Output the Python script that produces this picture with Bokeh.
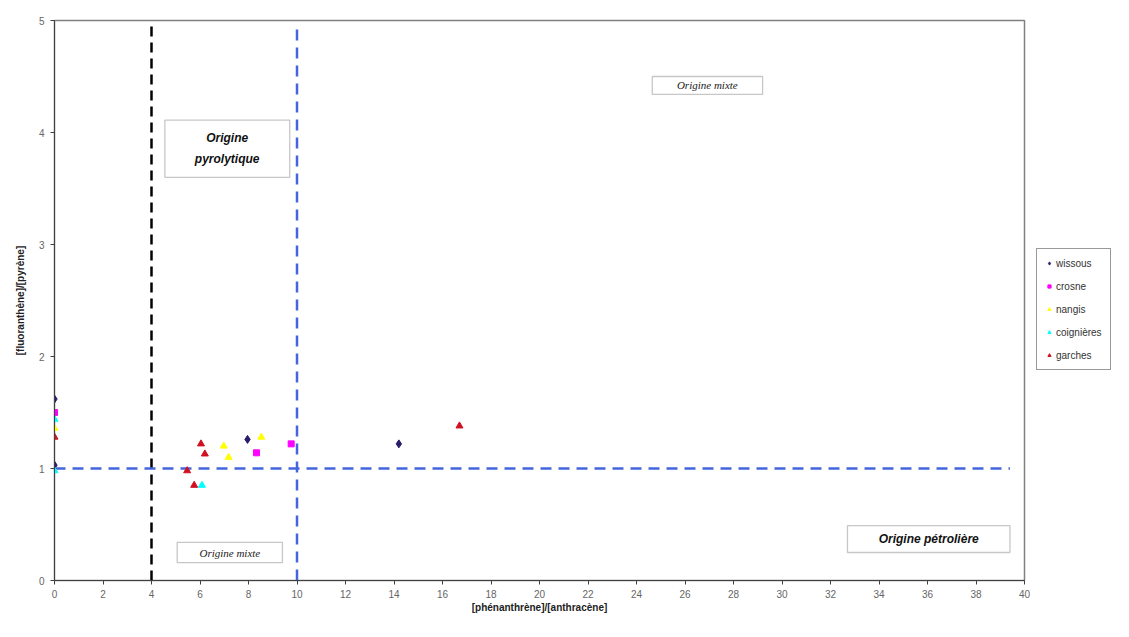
from bokeh.plotting import figure
from bokeh.models import Legend, LegendItem, Label, BoxAnnotation, FixedTicker, Range1d
from bokeh.layouts import row
from bokeh.embed import file_html
from bokeh.resources import INLINE

# ---- data ----
wissous_x = [0, 0, 7.96, 14.2]
wissous_y = [1.62, 1.03, 1.26, 1.22]
crosne_x = [0, 8.33, 9.76]
crosne_y = [1.50, 1.14, 1.22]
nangis_x = [0, 6.98, 7.18, 8.53]
nangis_y = [1.36, 1.20, 1.10, 1.28]
coign_x = [0, 0, 6.08]
coign_y = [1.44, 0.98, 0.85]
garches_x = [0, 6.04, 6.2, 5.47, 5.76, 16.7]
garches_y = [1.28, 1.22, 1.13, 0.98, 0.85, 1.38]

series_names = ["wissous", "crosne", "nangis", "coignières", "garches"]

# thresholds
pyro_x = 4
petro_x = 10
ratio_y = 1

x_ticks = list(range(0, 41, 2))
y_ticks = [0, 1, 2, 3, 4, 5]

styles = [
    dict(marker="diamond", size=8, fill_color="#2B1B6B", line_color="#2B1B6B"),
    dict(marker="square", size=6, fill_color="#FF00FF", line_color="#FF00FF"),
    dict(marker="triangle", size=7, fill_color="#FFFF00", line_color="#FFFF00"),
    dict(marker="triangle", size=7, fill_color="#00FFFF", line_color="#00FFFF"),
    dict(marker="triangle", size=7, fill_color="#D01020", line_color="#D01020"),
]

p = figure(width=1032, height=630, x_range=(0, 40), y_range=(0, 5),
           output_backend="svg", toolbar_location=None,
           min_border_left=54, min_border_right=8,
           min_border_top=20, min_border_bottom=50)
p.grid.visible = False
p.outline_line_color = "#808080"
p.outline_line_width = 1.5
p.background_fill_color = "white"

for ax in (p.xaxis[0], p.yaxis[0]):
    ax.axis_line_color = "#404040"
    ax.major_tick_line_color = "#404040"
    ax.minor_tick_line_color = None
    ax.major_tick_out = 4
    ax.major_tick_in = 0
    ax.major_label_text_font = "Liberation Sans"
    ax.major_label_text_font_size = "10px"
    ax.major_label_text_color = "#666666"
    ax.axis_label_text_font = "Liberation Sans"
    ax.axis_label_text_font_size = "10px"
    ax.axis_label_text_font_style = "bold"
    ax.axis_label_text_color = "#222222"

p.xaxis.ticker = FixedTicker(ticks=x_ticks)
p.yaxis.ticker = FixedTicker(ticks=y_ticks)
p.xaxis.major_label_standoff = 5
p.yaxis.major_label_standoff = 6
p.xaxis.axis_label = "[phénanthrène]/[anthracène]"
p.yaxis.axis_label = "[fluoranthène]/[pyrène]"
p.xaxis.axis_label_standoff = 1
p.yaxis.axis_label_standoff = 10

# ---- reference lines ----
p.line([pyro_x, pyro_x], [0, 4.98], line_color="black", line_width=2.5,
       line_dash="10 6")
p.line([petro_x, petro_x], [0, 4.98], line_color="#4466DD", line_width=2.5,
       line_dash="11 7")
p.line([0, 39.4], [ratio_y, ratio_y], line_color="#4466DD", line_width=2.5,
       line_dash="11 7")

# ---- text boxes ----
def box(l, r, b, t):
    p.add_layout(BoxAnnotation(left=l, right=r, bottom=b, top=t,
                               fill_color="white", fill_alpha=1,
                               line_color="#444444", line_width=1.3))

box(4.55, 9.7, 3.6, 4.11)
p.add_layout(Label(x=7.12, y=3.855, text="Origine\npyrolytique",
                   text_align="center", text_baseline="middle",
                   text_font="Liberation Sans", text_font_size="12px",
                   text_font_style="bold italic", text_color="#111111",
                   text_line_height=1.5))
box(24.65, 29.2, 4.34, 4.5)
p.add_layout(Label(x=26.92, y=4.42, text="Origine mixte",
                   text_align="center", text_baseline="middle",
                   text_font="Liberation Serif", text_font_size="11px",
                   text_font_style="italic", text_color="#222222"))
box(5.06, 9.4, 0.16, 0.34)
p.add_layout(Label(x=7.23, y=0.25, text="Origine mixte",
                   text_align="center", text_baseline="middle",
                   text_font="Liberation Serif", text_font_size="11px",
                   text_font_style="italic", text_color="#222222"))
box(32.7, 39.4, 0.25, 0.49)
p.add_layout(Label(x=36.05, y=0.37, text="Origine pétrolière",
                   text_align="center", text_baseline="middle",
                   text_font="Liberation Sans", text_font_size="12px",
                   text_font_style="bold italic", text_color="#111111"))

# ---- scatter ----
series_x = [wissous_x, crosne_x, nangis_x, coign_x, garches_x]
series_y = [wissous_y, crosne_y, nangis_y, coign_y, garches_y]
for xs, ys, st in zip(series_x, series_y, styles):
    p.scatter(xs, ys, **st)

# ---- legend (separate panel to the right of the plot) ----
# same series drawn in a view range that shows none of them, only for the key
lg = figure(width=97, height=630, x_range=Range1d(100, 101),
            y_range=Range1d(100, 101),
            output_backend="svg", toolbar_location=None,
            min_border_left=0, min_border_right=0, min_border_top=0,
            min_border_bottom=0)
lg.axis.visible = False
lg.grid.visible = False
lg.outline_line_color = None
key_r = [lg.scatter(xs, ys, **st)
         for xs, ys, st in zip(series_x, series_y, styles)]

legend = Legend(items=[LegendItem(label=n, renderers=[r])
                       for n, r in zip(series_names, key_r)],
                location=(4, 210))
legend.border_line_color = "#333333"
legend.border_line_width = 1
legend.background_fill_color = "white"
legend.label_text_font = "Liberation Sans"
legend.label_text_font_size = "10px"
legend.label_text_color = "#333333"
legend.glyph_width = 8
legend.glyph_height = 12
legend.label_height = 12
legend.spacing = 11
legend.padding = 8
legend.margin = 0
legend.label_standoff = 3
lg.add_layout(legend, "center")

layout = row(p, lg)
open("out.html", "w").write(file_html(layout, INLINE))
